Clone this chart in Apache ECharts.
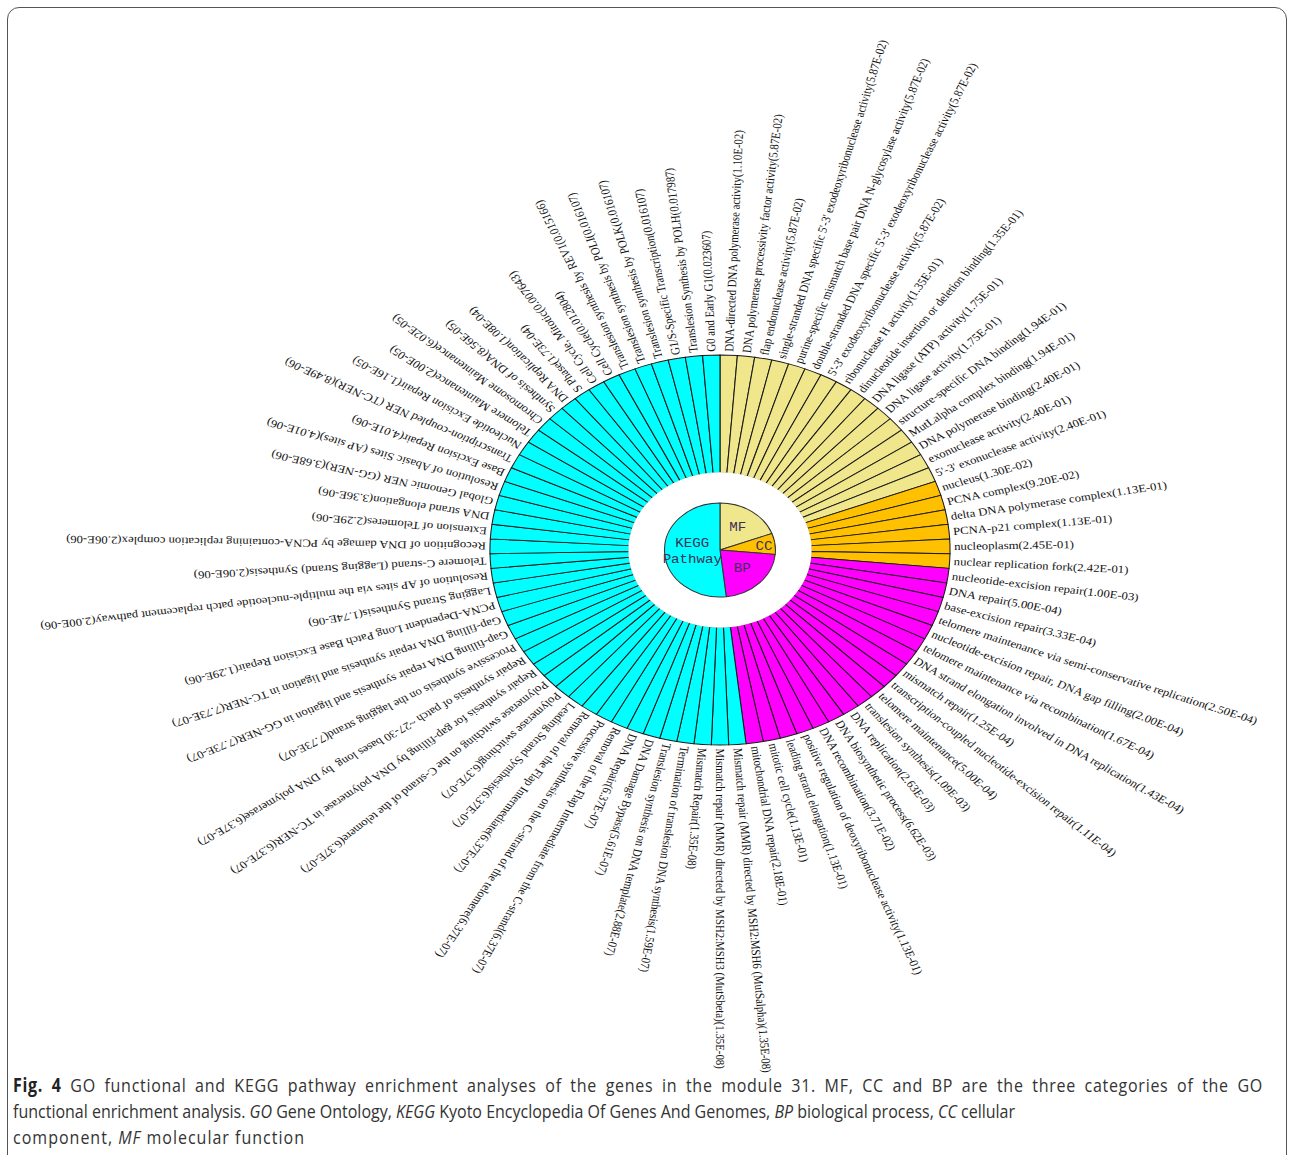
<!DOCTYPE html>
<html><head><meta charset="utf-8">
<script src="https://cdn.jsdelivr.net/npm/echarts@6/dist/echarts.min.js"></script>
<style>
html,body{margin:0;padding:0;background:#fff;width:1293px;height:1155px;overflow:hidden;position:relative;}
#frame{position:absolute;left:7px;top:7px;width:1280px;height:1170px;border:1.6px solid #555;border-radius:12px;box-sizing:border-box;}
#chart{position:absolute;left:0;top:0;width:1096px;height:1155px;transform-origin:0 0;transform:scaleX(1.17974);}
#caption{position:absolute;left:13px;top:1072px;z-index:5;font-family:"Open Sans","Noto Sans",sans-serif;font-size:19px;line-height:26px;color:#333;white-space:nowrap;transform-origin:0 0;}
#caption div{display:inline-block;}
#caption b{color:#222;}
</style></head>
<body>
<div id="frame"></div>
<div id="chart"></div>
<div id="caption"><div id="ln1"><b>Fig. 4</b> GO functional and KEGG pathway enrichment analyses of the genes in the module 31. MF, CC and BP are the three categories of the GO</div><br><div id="ln2">functional enrichment analysis. <i>GO</i> Gene Ontology, <i>KEGG</i> Kyoto Encyclopedia Of Genes And Genomes, <i>BP</i> biological process, <i>CC</i> cellular</div><br><div id="ln3">component, <i>MF</i> molecular function</div></div>
<script>
// ---- data (clockwise from 12 o'clock) ----
const mfNames = ["DNA-directed DNA polymerase activity","DNA polymerase processivity factor activity","flap endonuclease activity","single-stranded DNA specific 5'-3' exodeoxyribonuclease activity","purine-specific mismatch base pair DNA N-glycosylase activity","double-stranded DNA specific 5'-3' exodeoxyribonuclease activity","5'-3' exodeoxyribonuclease activity","ribonuclease H activity","dinucleotide insertion or deletion binding","DNA ligase (ATP) activity","DNA ligase activity","structure-specific DNA binding","MutLalpha complex binding","DNA polymerase binding","exonuclease activity","5'-3' exonuclease activity"];
const mfP = ["1.10E-02","5.87E-02","5.87E-02","5.87E-02","5.87E-02","5.87E-02","5.87E-02","1.35E-01","1.35E-01","1.75E-01","1.75E-01","1.94E-01","1.94E-01","2.40E-01","2.40E-01","2.40E-01"];
const ccNames = ["nucleus","PCNA complex","delta DNA polymerase complex","PCNA-p21 complex","nucleoplasm","nuclear replication fork"];
const ccP = ["1.30E-02","9.20E-02","1.13E-01","1.13E-01","2.45E-01","2.42E-01"];
const bpNames = ["nucleotide-excision repair","DNA repair","base-excision repair","telomere maintenance via semi-conservative replication","nucleotide-excision repair, DNA gap filling","telomere maintenance via recombination","DNA strand elongation involved in DNA replication","mismatch repair","transcription-coupled nucleotide-excision repair","telomere maintenance","translesion synthesis","DNA replication","DNA biosynthetic process","DNA recombination","positive regulation of deoxyribonuclease activity","leading strand elongation","mitotic cell cycle","mitochondrial DNA repair"];
const bpP = ["1.00E-03","5.00E-04","3.33E-04","2.50E-04","2.00E-04","1.67E-04","1.43E-04","1.25E-04","1.11E-04","5.00E-04","1.09E-03","2.63E-03","6.62E-03","3.71E-02","1.13E-01","1.13E-01","1.13E-01","2.18E-01"];
const keggNames = ["Mismatch repair (MMR) directed by MSH2:MSH6 (MutSalpha)","Mismatch repair (MMR) directed by MSH2:MSH3 (MutSbeta)","Mismatch Repair","Termination of translesion DNA synthesis","Translesion synthesis on DNA template","DNA Damage Bypass","DNA Repair","Removal of the Flap Intermediate from the C-strand","Processive synthesis on the C-strand of the telomere","Removal of the Flap Intermediate","Leading Strand Synthesis","Polymerase switching","Polymerase switching on the C-strand of the telomere","Repair synthesis for gap-filling by DNA polymerase in TC-NER","Repair synthesis of patch ~27-30 bases long  by DNA polymerase","Processive synthesis on the lagging strand","Gap-filling DNA repair synthesis and ligation in GG-NER","Gap-filling DNA repair synthesis and ligation in TC-NER","PCNA-Dependent Long Patch Base Excision Repair","Lagging Strand Synthesis","Resolution of AP sites via the multiple-nucleotide patch replacement pathway","Telomere C-strand (Lagging Strand) Synthesis","Recognition of DNA damage by PCNA-containing replication complex","Extension of Telomeres","DNA strand elongation","Global Genomic NER (GG-NER)","Resolution of Abasic Sites (AP sites)","Base Excision Repair","Transcription-coupled NER (TC-NER)","Nucleotide Excision Repair","Telomere Maintenance","Chromosome Maintenance","Synthesis of DNA","DNA Replication","S Phase","Cell Cycle, Mitotic","Cell Cycle","Translesion synthesis by REV1","Translesion synthesis by POLI","Translesion synthesis by POLK","G1/S-Specific Transcription","Translesion Synthesis by POLH","G0 and Early G1"];
const keggP = ["1.35E-08","1.35E-08","1.35E-08","1.59E-07","2.88E-07","5.61E-07","6.37E-07","6.37E-07","6.37E-07","6.37E-07","6.37E-07","6.37E-07","6.37E-07","6.37E-07","6.37E-07","7.73E-07","7.73E-07","7.73E-07","1.29E-06","1.74E-06","2.00E-06","2.06E-06","2.06E-06","2.29E-06","3.36E-06","3.68E-06","4.01E-06","4.01E-06","8.49E-06","1.16E-05","2.00E-05","6.02E-05","8.56E-05","1.08E-04","1.73E-04","0.007643","0.012804","0.015166","0.016107","0.016107","0.016107","0.017987","0.023607"];
const groupNames = ["MF","CC","BP","KEGG\nPathway"];

// ---- styling ----
const groupColors = ["#F0E68C","#FFC000","#FF00FF","#00FFFF"];
const SX = 1.17974;
const CX = 720 / SX, CY = 550, R0 = 77, R1 = 195, RP = 47;

const groups = [[mfNames,mfP],[ccNames,ccP],[bpNames,bpP],[keggNames,keggP]];
const labels = [], groupOf = [];
groups.forEach((g, gi) => g[0].forEach((n, k) => { labels.push(n + "(" + g[1][k] + ")"); groupOf.push(gi); }));

const chart = echarts.init(document.getElementById('chart'), null, {renderer: 'svg'});
chart.setOption({
  animation: false,
  polar: {center: [CX, CY], radius: [R0, R1]},
  angleAxis: {type: 'category', data: labels, startAngle: 90, clockwise: true, boundaryGap: true,
    axisLine: {show: false}, axisTick: {show: false}, axisLabel: {show: false}, splitLine: {show: false}},
  radiusAxis: {type: 'value', min: 0, max: 1, axisLine: {show: false}, axisTick: {show: false}, axisLabel: {show: false}, splitLine: {show: false}},
  series: [
    {type: 'bar', coordinateSystem: 'polar', barCategoryGap: '0%', silent: true, z: 1,
      data: labels.map((l, i) => ({value: 1, itemStyle: {color: groupColors[groupOf[i]]}})),
      itemStyle: {borderColor: '#1a1a1a', borderWidth: 0.9}},
    {type: 'custom', coordinateSystem: 'polar', silent: true, z: 3,
      data: labels.map((l, i) => [1, i]),
      renderItem: function (params, api) {
        const i = params.dataIndex;
        const p = api.coord([1, i]);
        const q = api.coord([0, i]);
        let dx = p[0] - q[0], dy = p[1] - q[1];
        const len = Math.hypot(dx, dy); dx /= len; dy /= len;
        return {type: 'text', x: p[0] + dx * 3.5, y: p[1] + dy * 3.5, rotation: -Math.atan2(dy, dx),
          style: {text: labels[i], x: 0, y: 0, align: 'left', verticalAlign: 'middle', fill: '#111',
            font: '10.8px "Liberation Serif", serif'}};
      }},
    {type: 'pie', center: [CX, CY], radius: [0, R0 + 0.7], silent: true, z: 4,
      label: {show: false}, labelLine: {show: false},
      itemStyle: {color: '#ffffff', borderWidth: 0},
      data: [{name: 'hole', value: 1}]},
    {type: 'pie', center: [CX, CY], radius: [0, RP], startAngle: 90, clockwise: true, silent: true, z: 5,
      label: {show: true, position: 'inner', color: '#3b3154', fontFamily: '"Liberation Mono", monospace', fontSize: 12, lineHeight: 16, formatter: '{b}'},
      labelLine: {show: false},
      itemStyle: {borderColor: '#333', borderWidth: 0.9},
      data: groups.map((g, gi) => ({name: groupNames[gi], value: g[0].length,
        itemStyle: {color: groupColors[gi]},
        label: gi === 1 ? {padding: [0, 0, 0, 22]} : (gi === 3 ? {padding: [10, 0, 0, 6]} : {})}))}
  ]
});

function fitCaption() {
  const cap = document.getElementById('caption');
  const l1 = document.getElementById('ln1'), l2 = document.getElementById('ln2'), l3 = document.getElementById('ln3');
  cap.style.transform = 'none';
  [l1, l3].forEach(el => { el.style.letterSpacing = '0px'; el.style.wordSpacing = '0px'; });
  const s = 1002 / l2.getBoundingClientRect().width;
  cap.style.transform = 'scaleX(' + s + ')';
  const fit = (el, target, wordShare) => {
    const w = el.getBoundingClientRect().width / s;
    const n = el.textContent.length;
    const sp = (el.textContent.match(/ /g) || []).length;
    const extra = target / s - w;
    el.style.letterSpacing = (extra * (1 - wordShare) / n) + 'px';
    el.style.wordSpacing = (extra * wordShare / sp) + 'px';
  };
  fit(l1, 1250, 0.5); fit(l3, 292, 0);
}
fitCaption();
if (document.fonts && document.fonts.ready) { document.fonts.ready.then(fitCaption); }
</script>
</body></html>
